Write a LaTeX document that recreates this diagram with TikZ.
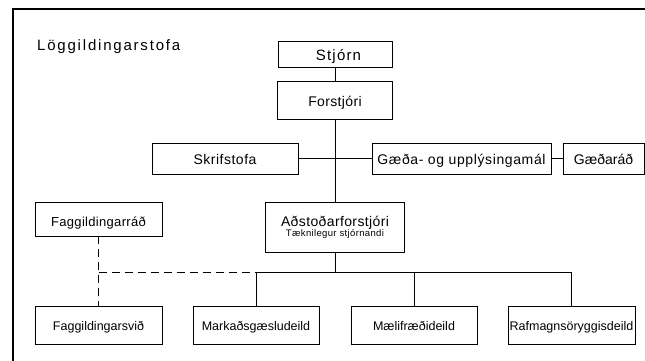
\documentclass[tikz,border=0pt]{standalone}
\usepackage{fontspec}
\setmainfont{Liberation Sans}
\newcommand\ft[2]{\fontsize{#1}{#1}\selectfont\addfontfeatures{LetterSpace=#2}}
\begin{document}
\begin{tikzpicture}[x=1pt,y=-1pt,
  box/.style={draw, line width=0.9pt, inner sep=0pt, text height=12pt, text depth=0pt, anchor=center},
  lowbox/.style={box, minimum width=127pt, minimum height=38pt, text height=11.5pt, font=\ft{12.5}{0}},
  ln/.style={line width=0.9pt},
  dsh/.style={line width=0.9pt, dash pattern=on 8pt off 5pt}]
\useasboundingbox (0,0) rectangle (645,361);
% frame
\draw[line width=2pt] (12.5,361) -- (12.5,9) -- (645,9);
\node[anchor=base west, inner sep=0pt, font=\ft{15}{12}] (title) at (37,50.7) {Löggildingarstofa};
% boxes
\node[box, font=\ft{15}{8}, minimum width=114pt, minimum height=25.5pt] (stjorn) at (335,54.25) {\hspace*{7pt}Stjórn};
\node[box, font=\ft{14}{2.5}, minimum width=115pt, minimum height=38pt] (forst) at (335,100) {Forstjóri};
\node[box, font=\ft{14}{3.6}, minimum width=146pt, minimum height=31pt] (skrif) at (225,158.5) {Skrifstofa};
\node[box, font=\ft{14}{4.4}, minimum width=179pt, minimum height=31pt] (gaeda) at (461.5,158.5) {Gæða- og upplýsingamál};
\node[box, font=\ft{14}{0}, minimum width=81pt, minimum height=31pt] (gaedarad) at (603.5,158.5) {Gæðaráð};
\node[draw, line width=0.9pt, inner sep=0pt, align=center, font=\fontsize{10}{10}\selectfont,
      minimum width=139pt, minimum height=50pt] (adst) at (335,227)
      {{\ft{14}{2.7}Aðstoðarforstjóri}\\{\ft{9.5}{3.7}Tæknilegur stjórnandi}};
\node[box, font=\ft{13}{2.4}, text height=15pt, minimum width=127pt, minimum height=34pt] (fagrad) at (98.5,219) {Faggildingarráð};
\node[lowbox] (fagsvid) at (98.5,325) {Faggildingarsvið};
\node[lowbox, minimum width=126pt] (mark) at (256,325) {Markaðsgæsludeild};
\node[lowbox, minimum width=126pt] (maeli) at (414,325) {Mælifræðideild};
\node[lowbox] (rafm) at (571.5,325) {Rafmagnsöryggisdeild};
% connectors
\coordinate (bus) at (335,272);
\draw[ln] (stjorn.south) -- (forst.north);
\draw[ln] (forst.south) -- (adst.north);
\draw[ln] (skrif.east) -- (gaeda.west);
\draw[ln] (gaeda.east) -- (gaedarad.west);
\draw[ln] (adst.south) -- (bus);
\draw[ln] (mark.north) -- (mark.north |- bus) -- (rafm.north |- bus) -- (rafm.north);
\draw[ln] (maeli.north) -- (maeli.north |- bus);
\draw[dsh] (fagrad.south) -- (fagsvid.north);
\draw[dsh] (fagrad.south |- bus) -- (mark.north |- bus);
\end{tikzpicture}
\end{document}
